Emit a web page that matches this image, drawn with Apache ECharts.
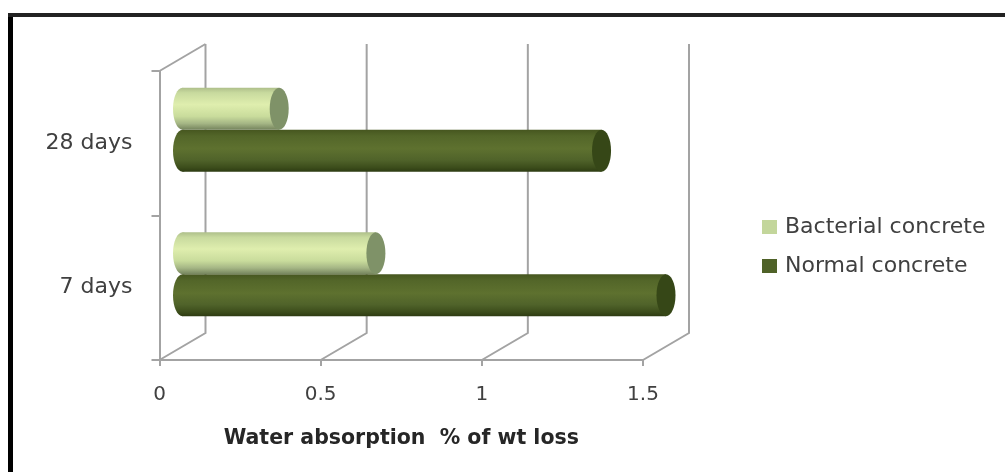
<!DOCTYPE html>
<html>
<head>
<meta charset="utf-8">
<title>Water absorption</title>
<script src="https://cdn.jsdelivr.net/npm/echarts@6/dist/echarts.min.js"></script>
<style>
html, body { margin: 0; padding: 0; background: #fff; }
#chart { width: 1005px; height: 472px; filter: blur(0.6px); }
</style>
</head>
<body>
<div id="chart"></div>
<script>
const categories = ['7 days', '28 days'];
const bacterialValues = [0.6, 0.3];
const normalValues = [1.5, 1.3];
const xTicks = [0, 0.5, 1, 1.5];

// fake 3d depth of the Excel style chart
const depthX = 46;
const depthY = 27;
const barH = 42;
const capRx = 9.5;

const wallColor = '#a3a3a3';
const textFont = 'DejaVu Sans';

function gradient(stops) {
  return new echarts.graphic.LinearGradient(0, 0, 0, 1, stops.map((c, i) => ({
    offset: c[0], color: c[1]
  })));
}

const lightFill = () => gradient([[0, '#aebf8a'], [0.12, '#c8da9e'], [0.4, '#dfeeae'], [0.68, '#c9dc9c'], [0.85, '#a5b685'], [1, '#74835c']]);
const darkFill = () => gradient([[0, '#46561f'], [0.15, '#536629'], [0.45, '#5e712f'], [0.72, '#50632a'], [0.9, '#3c4d1b'], [1, '#2d3b12']]);

function cylinder(side, fill, capColor) {
  return function (params, api) {
    const v = api.value(0);
    const cat = api.value(1);
    const start = api.coord([0, cat]);
    const end = api.coord([v, cat]);
    const x0 = start[0] + depthX / 2;
    const x1 = end[0] + depthX / 2;
    const cy = start[1] - depthY / 2 + side * barH / 2;
    const bodyFill = fill();
    return {
      type: 'group',
      children: [
        { type: 'ellipse', shape: { cx: x0, cy: cy, rx: capRx, ry: barH / 2 }, style: { fill: bodyFill } },
        { type: 'rect', shape: { x: x0, y: cy - barH / 2, width: x1 - x0, height: barH }, style: { fill: bodyFill } },
        { type: 'ellipse', shape: { cx: x1, cy: cy, rx: capRx, ry: barH / 2 }, style: { fill: capColor } }
      ]
    };
  };
}

function renderWall(params, api) {
  const x = api.coord([api.value(0), 0])[0];
  const top = params.coordSys.y;
  const bottom = top + params.coordSys.height;
  const lineStyle = { stroke: wallColor, lineWidth: 2, fill: null };
  const children = [
    { type: 'polyline', shape: { points: [[x, bottom], [x + depthX, bottom - depthY], [x + depthX, top - depthY]] }, style: lineStyle }
  ];
  if (api.value(0) === 0) {
    children.push({ type: 'line', shape: { x1: x, y1: top, x2: x + depthX, y2: top - depthY }, style: lineStyle });
  }
  return { type: 'group', children: children };
}

const myChart = echarts.init(document.getElementById('chart'), null, { renderer: 'canvas' });

const options = {
  animation: false,
  backgroundColor: '#fff',
  grid: { left: 159.5, top: 71, width: 483.5, height: 289 },
  legend: {
    orient: 'vertical',
    left: 762,
    top: 216,
    padding: 0,
    itemWidth: 15,
    itemHeight: 14,
    itemGap: 17,
    icon: 'rect',
    data: ['Bacterial concrete', 'Normal concrete'],
    textStyle: { fontFamily: textFont, fontSize: 22, color: '#404040', padding: [0, 0, 0, 3] }
  },
  xAxis: {
    type: 'value',
    min: 0,
    max: 1.5,
    interval: 0.5,
    splitLine: { show: false },
    axisLine: { show: true, onZero: false, lineStyle: { color: wallColor, width: 2 } },
    axisTick: { show: true, length: 6, lineStyle: { color: wallColor, width: 2 } },
    axisLabel: { margin: 25, fontFamily: textFont, fontSize: 20, color: '#404040' },
    name: 'Water absorption  % of wt loss',
    nameLocation: 'middle',
    nameGap: 68,
    nameTextStyle: { fontFamily: textFont, fontSize: 20.5, fontWeight: 'bold', color: '#262626' }
  },
  yAxis: {
    type: 'category',
    data: categories,
    axisLine: { show: true, lineStyle: { color: wallColor, width: 2 } },
    axisTick: { show: true, length: 8, lineStyle: { color: wallColor, width: 2 } },
    axisLabel: { margin: 27, fontFamily: textFont, fontSize: 22, color: '#404040', padding: [3, 0, 0, 0] }
  },
  series: [
    {
      name: 'walls',
      type: 'custom',
      silent: true,
      z: 1,
      renderItem: renderWall,
      encode: { x: 0 },
      data: xTicks.map(v => [v])
    },
    {
      name: 'Normal concrete',
      type: 'custom',
      z: 2,
      itemStyle: { color: '#4f6228' },
      renderItem: cylinder(1, darkFill, '#364717'),
      encode: { x: 0, y: 1 },
      data: normalValues.map((v, i) => [v, i])
    },
    {
      name: 'Bacterial concrete',
      type: 'custom',
      z: 3,
      itemStyle: { color: '#c3d69b' },
      renderItem: cylinder(-1, lightFill, '#7f9268'),
      encode: { x: 0, y: 1 },
      data: bacterialValues.map((v, i) => [v, i])
    }
  ],
  graphic: [
    { type: 'line', silent: true, shape: { x1: 10.5, y1: 15, x2: 10.5, y2: 472 }, style: { stroke: '#000', lineWidth: 5 } },
    { type: 'line', silent: true, shape: { x1: 8, y1: 15, x2: 1005, y2: 15 }, style: { stroke: '#222', lineWidth: 4 } }
  ]
};
myChart.setOption(options);
</script>
</body>
</html>
